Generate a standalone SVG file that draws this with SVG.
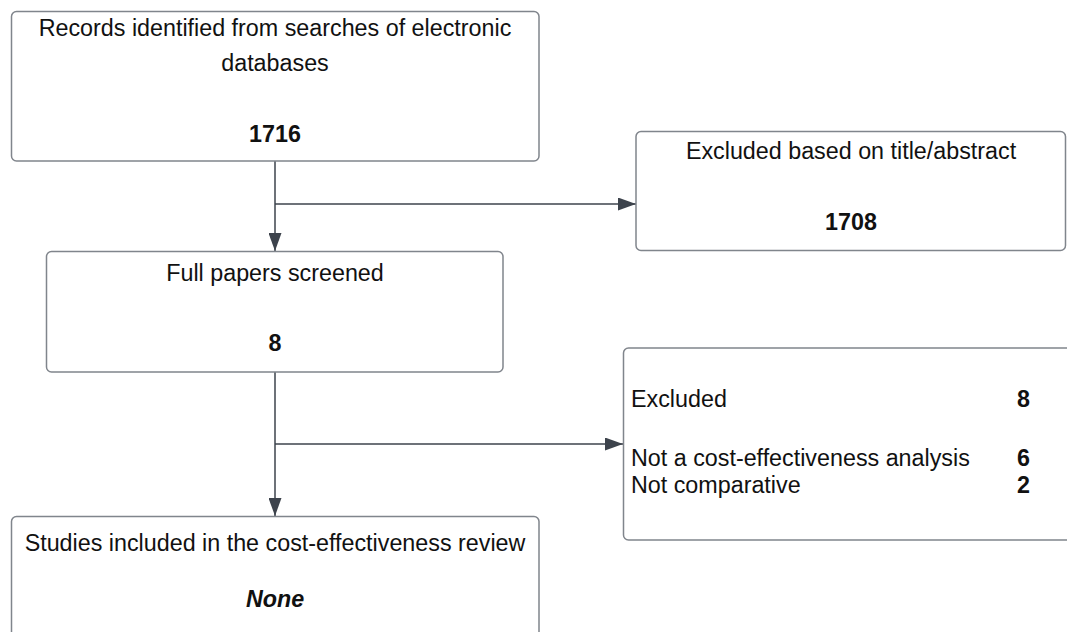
<svg xmlns="http://www.w3.org/2000/svg" width="1067" height="632" viewBox="0 0 1067 632">
<style>
.box{fill:#fff;stroke:#80858c;stroke-width:1.5}
.t{font-family:"Liberation Sans",Arial,sans-serif;font-size:23.3px;fill:#111}
.c{text-anchor:middle}
.b{font-weight:bold}
.r{text-anchor:end}
.line{stroke:#3d434c;stroke-width:1.5;fill:none}
</style>
<defs>
<marker id="arr" viewBox="0 0 18 13" markerWidth="18" markerHeight="13" refX="18" refY="6.5" orient="auto" markerUnits="userSpaceOnUse">
<path d="M0,0 L18,6.5 L0,13 z" fill="#3d434c"/>
</marker>
</defs>
<rect width="1067" height="632" fill="#fff"/>
<g id="connectors">
<path class="line" d="M275,161 V251" marker-end="url(#arr)"/>
<path class="line" d="M275,204 H636" marker-end="url(#arr)"/>
<path class="line" d="M275,372 V516" marker-end="url(#arr)"/>
<path class="line" d="M275,444 H623" marker-end="url(#arr)"/>
</g>
<g id="records">
<rect class="box" x="11.5" y="11.5" width="527.5" height="149.5" rx="5"/>
<text class="t c" x="275" y="36">Records identified from searches of electronic</text>
<text class="t c" x="275" y="71">databases</text>
<text class="t c b" x="275" y="142">1716</text>
</g>
<g id="excluded-title">
<rect class="box" x="636" y="131.5" width="429.5" height="119" rx="5"/>
<text class="t c" x="851" y="159">Excluded based on title/abstract</text>
<text class="t c b" x="851" y="230">1708</text>
</g>
<g id="full-papers">
<rect class="box" x="46.5" y="251.5" width="456.5" height="120.5" rx="5"/>
<text class="t c" x="275" y="281">Full papers screened</text>
<text class="t c b" x="275" y="351">8</text>
</g>
<g id="excluded-full">
<rect class="box" x="623.5" y="348" width="460" height="192" rx="5"/>
<text class="t" x="631" y="407">Excluded</text>
<text class="t b r" x="1030" y="407">8</text>
<text class="t" x="631" y="466">Not a cost-effectiveness analysis</text>
<text class="t b r" x="1030" y="466">6</text>
<text class="t" x="631" y="493">Not comparative</text>
<text class="t b r" x="1030" y="493">2</text>
</g>
<g id="included">
<rect class="box" x="11.5" y="516.5" width="527.5" height="130" rx="5"/>
<text class="t c" x="275" y="551">Studies included in the cost-effectiveness review</text>
<text class="t c b" x="275" y="607" font-style="italic">None</text>
</g>
</svg>
